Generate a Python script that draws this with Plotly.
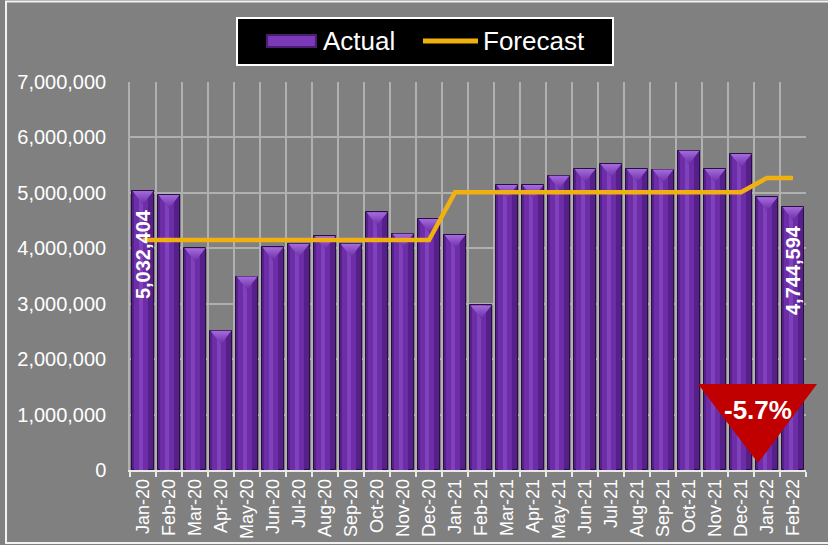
import plotly.graph_objects as go

# ---- data ----
months = ["Jan-20", "Feb-20", "Mar-20", "Apr-20", "May-20", "Jun-20", "Jul-20", "Aug-20",
          "Sep-20", "Oct-20", "Nov-20", "Dec-20", "Jan-21", "Feb-21", "Mar-21", "Apr-21",
          "May-21", "Jun-21", "Jul-21", "Aug-21", "Sep-21", "Oct-21", "Nov-21", "Dec-21",
          "Jan-22", "Feb-22"]
actual = [5032404, 4960000, 4000000, 2510000, 3490000, 4020000, 4080000, 4220000,
          4080000, 4650000, 4260000, 4530000, 4240000, 2970000, 5140000, 5140000,
          5310000, 5430000, 5520000, 5430000, 5420000, 5760000, 5430000, 5700000,
          4920000, 4744594]
forecast = [4150000] * 12 + [5010000] * 12 + [5270000] * 2
y_ticks = [0, 1000000, 2000000, 3000000, 4000000, 5000000, 6000000, 7000000]

FONT = "Liberation Sans, Arial, sans-serif"
Y_MAX = 7000000
PLOT_H = 388  # plot area height in px
bevel_offset = 4.5 * Y_MAX / PLOT_H

fig = go.Figure()

# bar body (layered for a cylinder-like shading)
fig.add_trace(go.Bar(x=months, y=actual, width=0.85, offset=-0.425,
                     marker=dict(color="#55208A", line=dict(color="#2A0E42", width=1)),
                     showlegend=False, hoverinfo="skip"))
fig.add_trace(go.Bar(x=months, y=actual, width=0.56, offset=-0.36,
                     marker=dict(color="#6C2DA6", line=dict(width=0)),
                     showlegend=False, hoverinfo="skip"))
fig.add_trace(go.Bar(x=months, y=actual, width=0.16, offset=-0.17,
                     marker=dict(color="#7F41BC", line=dict(width=0)),
                     showlegend=False, name="Actual"))
# bevel tops
fig.add_trace(go.Scatter(x=months, y=[v - bevel_offset for v in actual], mode="markers",
                         marker=dict(symbol="triangle-down", size=18, color="#A56BDD",
                                     gradient=dict(type="vertical", color="#6A2CA5"),
                                     line=dict(width=0)),
                         showlegend=False, hoverinfo="skip"))
# forecast line
fig.add_trace(go.Scatter(x=months, y=forecast, mode="lines", name="Forecast",
                         line=dict(color="#F0B00F", width=4.5), showlegend=False))

# value labels on first and last bars
for i in (0, len(actual) - 1):
    fig.add_annotation(x=months[i], y=actual[i], text=f"{actual[i]:,}", textangle=-90,
                       showarrow=False, yanchor="top", yshift=-16,
                       font=dict(family=FONT, size=20, color="white", weight="bold"))

# change indicator
change = (actual[-1] / actual[0] - 1) * 100
fig.add_shape(type="path", xref="paper", yref="paper",
              path="M 0.8402 0.2216 L 1.0163 0.2216 L 0.929 0.018 Z",
              fillcolor="#C00000", line=dict(width=0), layer="above")
fig.add_annotation(xref="paper", yref="paper", x=0.929, y=0.1546, text=f"{change:.1f}%",
                   showarrow=False, xanchor="center", yanchor="middle",
                   font=dict(family=FONT, size=26, color="white", weight="bold"))

# custom legend
fig.add_shape(type="rect", xref="paper", yref="paper", x0=0.1583, x1=0.7145, y0=1.0438, y1=1.165,
              fillcolor="black", line=dict(color="white", width=2), layer="above")
fig.add_shape(type="rect", xref="paper", yref="paper", x0=0.2012, x1=0.2766, y0=1.0876, y1=1.1237,
              fillcolor="#4B1E73", line=dict(width=0), layer="above")
fig.add_shape(type="rect", xref="paper", yref="paper", x0=0.2042, x1=0.2736, y0=1.0928, y1=1.1185,
              fillcolor="#7A3AB8", line=dict(width=0), layer="above")
fig.add_shape(type="line", xref="paper", yref="paper", x0=0.4334, x1=0.5148, y0=1.1057, y1=1.1057,
              line=dict(color="#F0B00F", width=5), layer="above")
fig.add_annotation(xref="paper", yref="paper", x=0.2825, y=1.1057, text="Actual", showarrow=False,
                   xanchor="left", yanchor="middle", font=dict(family=FONT, size=26, color="white"))
fig.add_annotation(xref="paper", yref="paper", x=0.519, y=1.1057, text="Forecast", showarrow=False,
                   xanchor="left", yanchor="middle", font=dict(family=FONT, size=26, color="white"))

# outer frame
fig.add_shape(type="rect", xref="paper", yref="paper", x0=-0.1834, x1=1.07, y0=-0.188, y1=1.2075,
              fillcolor="rgba(0,0,0,0)", line=dict(color="#F2F2F2", width=2), layer="below")

fig.update_layout(
    width=828, height=545,
    margin=dict(l=130, r=22, t=82, b=75),
    paper_bgcolor="#808080", plot_bgcolor="#808080",
    barmode="overlay", bargap=0,
    font=dict(family=FONT, color="white"),
    showlegend=False,
    xaxis=dict(type="category", categoryorder="array", categoryarray=months,
               range=[-0.5, len(months) - 0.5], tickson="boundaries", automargin=False,
               ticks="outside", ticklen=5, tickcolor="#E8E8E8", tickwidth=1.5,
               showgrid=True, gridcolor="#B0B0B0", gridwidth=1.5,
               showline=True, linecolor="#E8E8E8", linewidth=1.5,
               tickangle=-90, tickfont=dict(family=FONT, size=18, color="white")),
    yaxis=dict(range=[0, Y_MAX], tickvals=y_ticks, tickformat=",", automargin=False,
               showgrid=True, gridcolor="#B0B0B0", gridwidth=1.5,
               showline=True, linecolor="#B0B0B0", linewidth=1.5, zeroline=False,
               ticks="", ticklabelstandoff=18,
               tickfont=dict(family=FONT, size=20, color="white")),
)

fig.write_html("out.html", config={"displayModeBar": False},
               post_script="document.body.style.margin='0';")
